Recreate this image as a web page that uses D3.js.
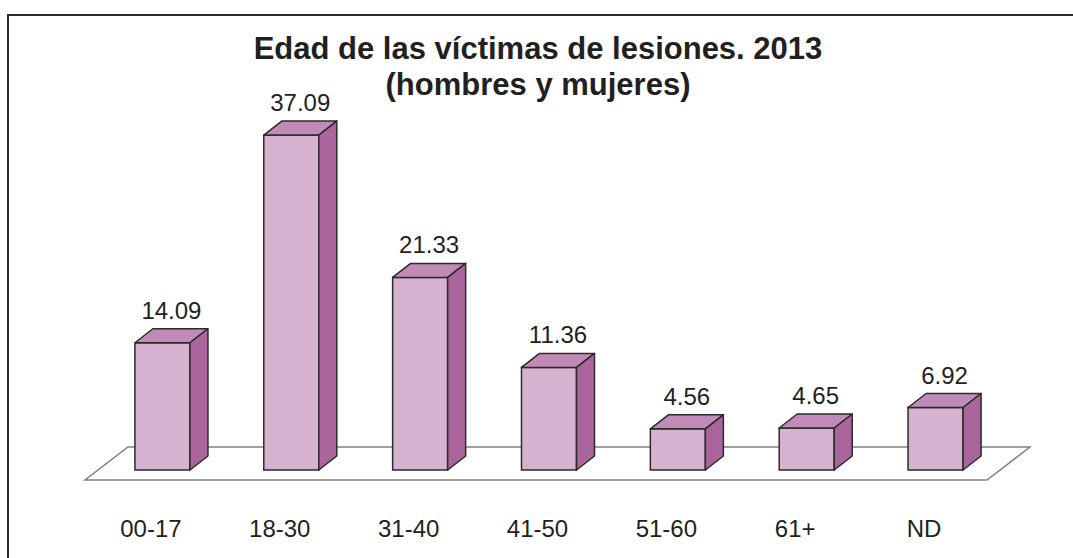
<!DOCTYPE html>
<html>
<head>
<meta charset="utf-8">
<script src="https://cdn.jsdelivr.net/npm/d3@7"></script>
<style>
  body { margin: 0; background: #fff; }
  svg { display: block; font-family: "Liberation Sans", Arial, sans-serif; }
</style>
</head>
<body>
<div id="chart"></div>
<script>
var categories = ["00-17", "18-30", "31-40", "41-50", "51-60", "61+", "ND"];
var values = [14.09, 37.09, 21.33, 11.36, 4.56, 4.65, 6.92];
var titleLines = ["Edad de las víctimas de lesiones. 2013", "(hombres y mujeres)"];

var w = 1073, h = 558;
var depthX = 18, depthY = -14;   // bar depth offset
var floorDx = 43, floorDy = -33; // floor depth offset

var svg = d3.select("#chart").append("svg")
  .attr("width", w)
  .attr("height", h);

// frame (top and left lines only are visible)
svg.append("path")
  .attr("d", "M8,558 L8,15 L1073,15")
  .attr("fill", "none")
  .attr("stroke", "#2b2b2b")
  .attr("stroke-width", 2);

var x = d3.scaleBand()
  .domain(categories)
  .range([98, 1000])
  .paddingInner(0.573)
  .paddingOuter(0.2865);

var y = d3.scaleLinear()
  .domain([0, 40])
  .range([470, 470 - 361.2]);

// floor
var fl = 85, fr = 987, fy = 480;
svg.append("path")
  .attr("d", "M" + fl + "," + fy + " L" + fr + "," + fy +
             " L" + (fr + floorDx) + "," + (fy + floorDy) +
             " L" + (fl + floorDx) + "," + (fy + floorDy) + " Z")
  .attr("fill", "#fff")
  .attr("stroke", "#808080")
  .attr("stroke-width", 1.5);

var bars = svg.selectAll(".bar")
  .data(values)
  .enter().append("g")
  .attr("class", "bar");

// front face
bars.append("rect")
  .attr("x", function(d, i){ return x(categories[i]); })
  .attr("y", function(d){ return y(d); })
  .attr("width", x.bandwidth())
  .attr("height", function(d){ return y(0) - y(d); })
  .attr("fill", "#d5b2cf")
  .attr("stroke", "#2b2b2b")
  .attr("stroke-width", 1.5);

// top face
bars.append("path")
  .attr("d", function(d, i){
    var x0 = x(categories[i]), x1 = x0 + x.bandwidth(), yt = y(d);
    return "M" + x0 + "," + yt + " L" + (x0 + depthX) + "," + (yt + depthY) +
           " L" + (x1 + depthX) + "," + (yt + depthY) + " L" + x1 + "," + yt + " Z";
  })
  .attr("fill", "#c08bb6")
  .attr("stroke", "#2b2b2b")
  .attr("stroke-width", 1.5)
  .attr("stroke-linejoin", "round");

// side face
bars.append("path")
  .attr("d", function(d, i){
    var x1 = x(categories[i]) + x.bandwidth(), yt = y(d), yb = y(0);
    return "M" + x1 + "," + yt + " L" + (x1 + depthX) + "," + (yt + depthY) +
           " L" + (x1 + depthX) + "," + (yb + depthY) + " L" + x1 + "," + yb + " Z";
  })
  .attr("fill", "#aa659c")
  .attr("stroke", "#2b2b2b")
  .attr("stroke-width", 1.5)
  .attr("stroke-linejoin", "round");

// value labels
bars.append("text")
  .attr("x", function(d, i){ return x(categories[i]) + x.bandwidth() / 2 + depthX / 2; })
  .attr("y", function(d){ return y(d) + depthY - 10; })
  .attr("text-anchor", "middle")
  .attr("font-size", 24)
  .attr("fill", "#231f20")
  .text(function(d){ return d.toFixed(2); });

// category labels
svg.selectAll(".cat")
  .data(categories)
  .enter().append("text")
  .attr("class", "cat")
  .attr("x", function(d){ return x(d) + x.bandwidth() / 2 - 11.5; })
  .attr("y", 537)
  .attr("text-anchor", "middle")
  .attr("font-size", 24)
  .attr("fill", "#231f20")
  .text(function(d){ return d; });

// title
svg.selectAll(".title")
  .data(titleLines)
  .enter().append("text")
  .attr("class", "title")
  .attr("x", 538)
  .attr("y", function(d, i){ return 59 + i * 36; })
  .attr("text-anchor", "middle")
  .attr("font-size", 31)
  .attr("font-weight", "bold")
  .attr("fill", "#231f20")
  .text(function(d){ return d; });
</script>
</body>
</html>
